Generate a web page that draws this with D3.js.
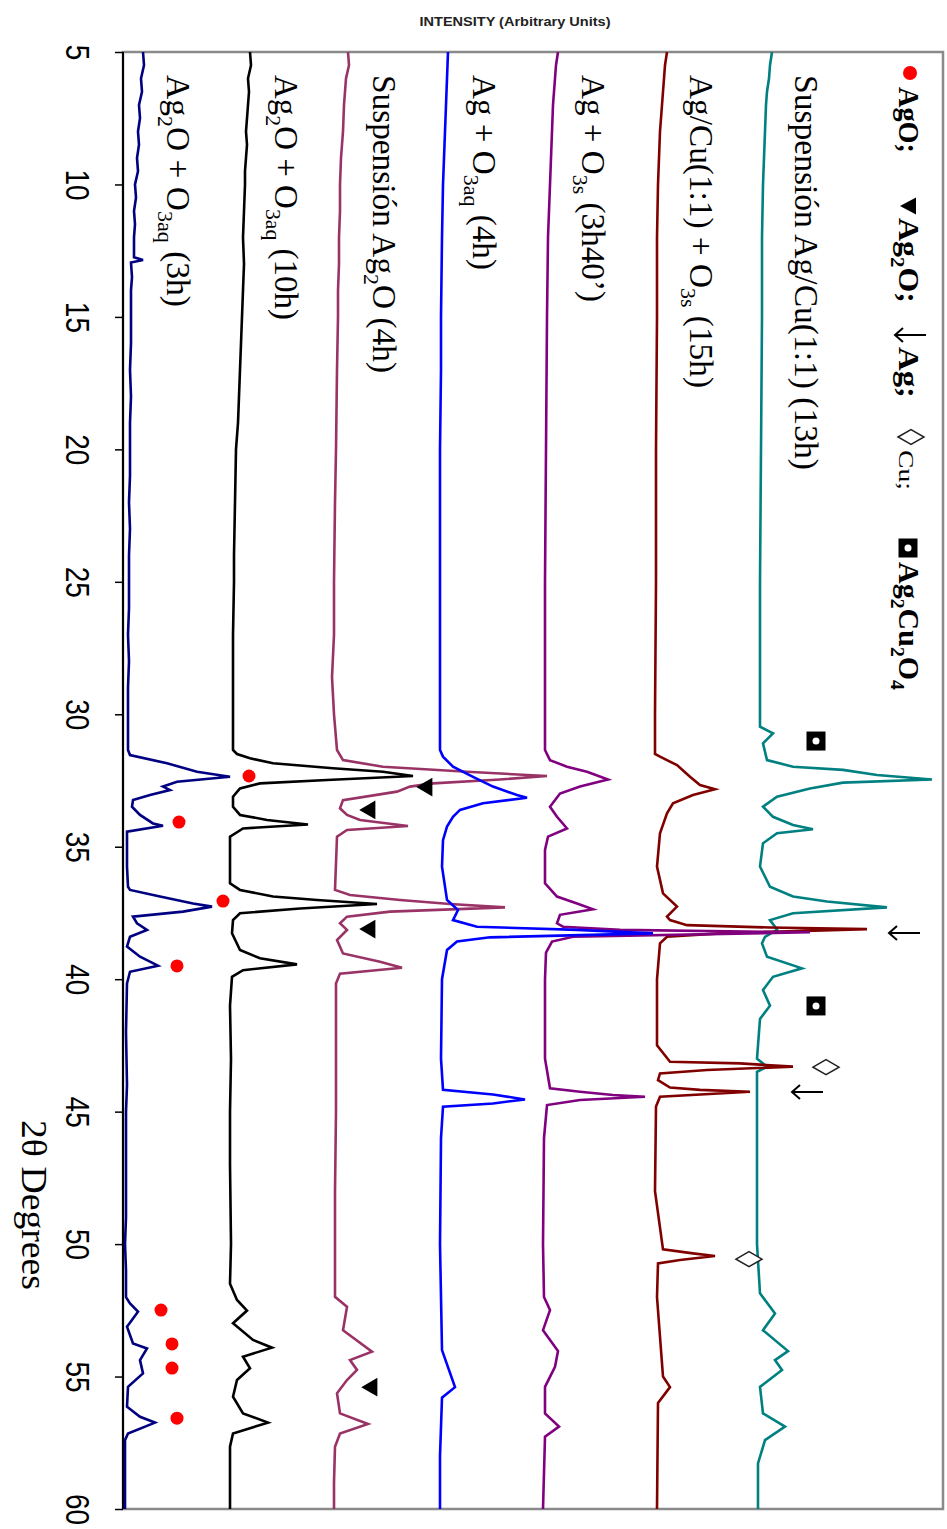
<!DOCTYPE html>
<html><head><meta charset="utf-8">
<script src="https://cdn.jsdelivr.net/npm/d3@7"></script>
<style>body{margin:0;background:#fff}svg{display:block}</style>
</head><body><svg id="c" width="947" height="1529"></svg>
<script>
// ---------- DATA (2θ degrees, intensity in arbitrary units) ----------
const ticks2theta = [5,10,15,20,25,30,35,40,45,50,55,60];

const seriesNames = [
  "Ag2O + O3aq (3h)", "Ag2O + O3aq (10h)", "Suspensión Ag2O (4h)", "Ag + O3aq (4h)",
  "Ag + O3s (3h40')", "Ag/Cu(1:1) + O3s (15h)", "Suspensión Ag/Cu(1:1) (13h)"
];

const navyData = [[5,20],[5.5,21],[6,18],[6.5,19],[7,16],[7.5,17],[8,15],[8.5,16],[9,14],[9.5,15],[10,12],[10.5,13],[11,11],[11.5,12],[12,11],[12.5,11],[12.75,11],[12.85,20],[12.95,8],[13.5,9],[14,8],[15,8],[16,8],[17,7],[18,8],[19,7],[20,7],[21,7],[22,6],[23,7],[24,6],[25,6],[26,6],[27,5],[28,6],[29,5],[30,5],[31,5],[31.35,5],
 [31.54,7],[31.85,44],[32.17,74],[32.36,107],[32.55,54],[32.73,40],[32.86,47],[33.05,27],[33.24,10],[33.49,9],[33.8,17],[34.12,30],[34.21,40],[34.43,4],[35.75,4],[36.51,5],[36.63,7],[36.88,37],[37.14,70],[37.26,89],[37.45,60],[37.64,10],[37.89,14],[38.14,24],[38.4,7],[38.77,4],[39.15,17],[39.49,35],[39.72,7],[40.16,4],
 [42,3],[44,4],[45,3],[47,3],[49,3],[50,2],[51,3],[52,3],[52.24,7],[52.55,15],[53.12,4],[53.75,10],[53.94,24],[54.38,17],[54.88,20],[55.39,5],[56.14,4],[56.52,17],[56.74,32],[57.15,5],[57.4,2],[59,2],[60,2]];

const blackData = [[5,127],[5.5,128],[6,125],[6.5,126],[7,125],[7.5,124],[8,123],[8.5,124],[9,123],[9.5,122],[10,122],[11,121],[12,120],[13,121],[14,120],[15,119],[16,118],[17,117],[18,116],[19,115],[20,113],[22,112],[24,111],[25,111],[27,110],[29.5,110],[31.35,110],
 [31.5,114],[31.66,127],[31.85,150],[32.04,210],[32.17,260],[32.33,290],[32.48,204],[32.61,137],[32.8,117],[33.11,110],[33.49,110],[33.8,117],[33.99,144],[34.16,185],[34.31,120],[34.62,107],[36.38,107],[36.63,117],[36.88,150],[37.01,194],[37.16,254],[37.33,177],[37.51,117],[37.77,110],[38.27,109],[38.9,117],[39.21,137],[39.44,174],[39.66,120],[39.91,109],
 [41,107],[43,108],[45,107],[47,107],[50,108],[51.5,107],[52.11,114],[52.51,124],[52.99,110],[53.62,130],[53.91,149],[54.25,120],[54.69,127],[55.13,114],[55.76,110],[56.39,120],[56.74,145],[57.15,110],[57.65,107],[59,107],[60,107]];

const pinkData = [[5,225],[5.5,226],[6,223],[7,221],[8,220],[9,218],[10,217],[11,217],[12,216],[13,216],[14,215],[15,215],[17,214],[20,213],[22,212],[25,211],[27,211],[28.6,209],[30,211],[31.35,214],
 [31.73,220],[31.98,260],[32.17,344],[32.33,424],[32.46,377],[32.61,310],[32.73,287],[32.92,274],[33.24,220],[33.55,217],[33.8,224],[33.99,237],[34.22,285],[34.37,224],[34.62,214],[36.63,212],[36.82,227],[37.01,277],[37.16,327],[37.29,382],[37.45,267],[37.64,224],[37.89,217],[38.14,224],[38.52,214],[39.03,220],[39.34,257],[39.57,279],[39.79,217],[40.16,213],
 [43,213],[45,213],[48,212],[50,212],[51.99,212],[52.37,224],[53.25,220],[54.06,249],[54.38,227],[54.75,234],[55.13,224],[55.63,214],[56.39,217],[56.79,245],[57.15,217],[57.65,212],[59,211],[60,211]];

const blueData = [[5,325],[6,324],[7,323],[8,322],[9,321],[10,320],[12,319],[15,318],[17,318],[20,317],[25,317],[30,317],[31.35,317],
 [31.6,320],[31.98,330],[32.36,350],[32.73,370],[33.05,394],[33.15,404],[33.36,360],[33.61,337],[33.87,330],[34.24,324],[34.75,320],[35.75,319],[37.01,324],[37.39,335],[37.77,330],[38.02,354],[38.14,454],[38.27,530],[38.42,367],[38.58,334],[38.9,324],[40,319],[43,318],
 [44.18,320],[44.35,370],[44.54,402],[44.69,370],[44.81,320],[46,318],[50,317],[54,319],[55.4,332],[55.8,319],[58,317],[60,317]];

const purpleData = [[5,435],[5.5,433],[6,432],[7,430],[8,429],[9,428],[10,427],[12,425],[15,424],[20,423],[25,422],[30,422],[31.35,422],
 [31.73,427],[31.98,444],[32.17,464],[32.46,485],[32.73,457],[32.99,437],[33.49,427],[33.87,434],[34.31,444],[34.62,425],[35.12,422],[36.38,422],[36.88,434],[37.14,454],[37.36,470],[37.57,437],[37.89,434],[38.02,440],[38.14,497],[38.23,687],[38.4,450],[38.58,429],[39,423],[40,422],[43,422],
 [44.12,427],[44.25,457],[44.37,490],[44.44,522],[44.56,457],[44.75,424],[46,421],[50,420],[52,421],[52.49,427],[53.25,420],[54.04,435],[54.63,432],[55.39,422],[56.39,422],[56.89,436],[57.27,422],[60,420]];

const darkredData = [[5,544],[5.5,542],[6,541],[7,539],[8,537],[9,536],[10,535],[12,534],[15,534],[20,533],[25,533],[30,532],[31.5,532],
 [31.6,537],[31.92,554],[32.36,567],[32.67,577],[32.83,592],[33.05,570],[33.36,550],[33.74,544],[34.49,537],[35.75,534],[36.76,540],[37.26,554],[37.64,544],[37.77,547],[37.96,564],[38.05,647],[38.11,744],[38.27,597],[38.4,544],[38.65,537],[40,534],[42.5,534],
 [43.12,547],[43.18,617],[43.3,670],[43.43,584],[43.56,537],[43.81,535],[44.09,547],[44.18,577],[44.25,627],[44.44,537],[44.81,533],[48,532],[50.2,540],[50.35,570],[50.45,592],[50.6,557],[50.73,535],[52,534],[55,540],[55.4,547],[56,535],[60,534]];

const tealData = [[5,649],[5.5,647],[6,646],[6.5,644],[7,643],[8,642],[9,641],[10,640],[12,639],[15,639],[20,638],[25,637],[30,637],
 [30.47,637],[30.72,650],[31.1,640],[31.73,644],[31.98,670],[32.1,720],[32.29,754],[32.46,809],[32.58,720],[32.8,687],[33.11,654],[33.49,640],[33.87,650],[34.18,670],[34.34,690],[34.49,654],[34.87,640],[35.75,637],[36.51,647],[36.88,670],[37.07,704],[37.29,764],[37.51,670],[37.77,647],[38.02,652],[38.14,654],[38.4,642],[38.65,639],[39.15,644],[39.59,679],[39.91,650],[40.41,640],
 [41,647],[41.5,637],[43,634],[43.3,644],[43.5,634],[46,634],[50,634],[51.86,637],[52.62,652],[53.25,640],[54.04,665],[54.38,652],[54.75,659],[55.39,637],[56.39,640],[56.89,662],[57.4,642],[58.28,635],[60,635]];

// phase markers [2θ, intensity]
const agoMarks = [[32.33,126],[34.07,56],[37.05,100],[39.5,54],[52.49,38],[53.77,49],[54.68,49],[56.57,54]];
const ag2oMarks = [[32.75,304],[33.61,247],[38.11,247],[55.4,249]];
const agMarks = [[38.26,781],[44.26,684]];
const cuMarks = [[43.32,703],[50.57,626]];
const ag2cu2o4Marks = [[31.01,693],[41.01,693]];

const seriesColors = ["#000080","#000000","#993366","#0000FF","#800080","#800000","#008080"];

// ---------- DRAW ----------
const svg = d3.select("#c");
const yS = d3.scaleLinear().domain([5,60]).range([52,1509]);
const xS = d3.scaleLinear().domain([0,820]).range([123,943]);

// title
svg.append("text").attr("x",515).attr("y",26).attr("text-anchor","middle")
  .attr("font-family","Liberation Sans, Arial, sans-serif").attr("font-weight","bold")
  .attr("font-size",12).attr("fill","#222").attr("textLength",191).attr("lengthAdjust","spacingAndGlyphs")
  .text("INTENSITY (Arbitrary Units)");

// frame
svg.append("rect").attr("x",123).attr("y",52).attr("width",820).attr("height",1457)
  .attr("fill","none").attr("stroke","#8a8a8a").attr("stroke-width",2.5);
svg.append("line").attr("x1",123).attr("x2",123).attr("y1",52).attr("y2",1509)
  .attr("stroke","#000").attr("stroke-width",2);

// axis
const ax = svg.append("g").attr("transform","translate(123,0)")
  .call(d3.axisLeft(yS).tickValues(ticks2theta).tickSize(8).tickFormat(d=>d));
ax.select(".domain").remove();
ax.selectAll(".tick line").attr("stroke","#000").attr("stroke-width",1.5);
ax.selectAll(".tick text").attr("x",0).attr("dy",0).attr("text-anchor","middle")
  .attr("font-family","Liberation Sans, Arial, sans-serif").attr("font-size",28).attr("fill","#000")
  .attr("transform","translate(-57,0) rotate(90) scale(1,1.2)");

// axis title
svg.append("text").attr("transform","translate(22,1205) rotate(90)").attr("text-anchor","middle")
  .attr("font-family","Liberation Serif, Times New Roman, serif").attr("font-size",35)
  .attr("textLength",170).attr("lengthAdjust","spacingAndGlyphs").text("2θ Degrees");

// lines
const line = d3.line().x(d=>xS(d[1])).y(d=>yS(d[0]));
const allData = [navyData, blackData, pinkData, tealData, darkredData, purpleData, blueData];
const allColors = ["#000080","#000000","#993366","#008080","#800000","#800080","#0000FF"];
allData.forEach((d,i)=>{
  svg.append("path").datum(d).attr("d",line).attr("fill","none")
    .attr("stroke",allColors[i]).attr("stroke-width",2.6).attr("stroke-linejoin","miter");
});

// series labels with subscripts
function richText(g, parts, size){
  const t = g.append("text").attr("font-family","Liberation Serif, Times New Roman, serif").attr("font-size",size).attr("fill","#000");
  let sub = false;
  parts.forEach(p=>{
    const isSub = p[1]==="s";
    const ts = t.append("tspan").text(p[0]);
    if(isSub && !sub){ ts.attr("dy", size*0.28).attr("font-size", size*0.66); sub=true; }
    else if(isSub){ ts.attr("font-size", size*0.66); }
    else if(!isSub && sub){ ts.attr("dy", -size*0.28); sub=false; }
  });
  return t;
}
const labelParts = [
  [["Ag",""],["2","s"],["O + O",""],["3aq","s"],[" (3h)",""]],
  [["Ag",""],["2","s"],["O + O",""],["3aq","s"],[" (10h)",""]],
  [["Suspensión Ag",""],["2","s"],["O (4h)",""]],
  [["Ag + O",""],["3aq","s"],[" (4h)",""]],
  [["Ag + O",""],["3s","s"],[" (3h40’)",""]],
  [["Ag/Cu(1:1) + O",""],["3s","s"],[" (15h)",""]],
  [["Suspensión Ag/Cu(1:1) (13h)",""]]
];
const labelBase = [167,275,373,473,582,690,795];
const labelLen = [232,245,298,195,227,313,395];
labelParts.forEach((p,i)=>{
  const g = svg.append("g").attr("transform",`translate(${labelBase[i]},75) rotate(90)`);
  richText(g,p,33).attr("textLength",labelLen[i]).attr("lengthAdjust","spacingAndGlyphs");
});

// markers
svg.selectAll(".ago").data(agoMarks).join("circle")
  .attr("cx",d=>xS(d[1])).attr("cy",d=>yS(d[0])).attr("r",6.5).attr("fill","#ff0000");
const tri = d3.symbol(d3.symbolTriangle, 150);
svg.selectAll(".ag2o").data(ag2oMarks).join("path").attr("d",tri)
  .attr("transform",d=>`translate(${xS(d[1])},${yS(d[0])}) rotate(-90)`).attr("fill","#000");
function arrow(cx,cy){
  svg.append("path").attr("d",`M${cx+16},${cy}L${cx-15},${cy}M${cx-7},${cy-7}L${cx-15},${cy}L${cx-7},${cy+7}`)
    .attr("fill","none").attr("stroke","#000").attr("stroke-width",2);
}
agMarks.forEach(d=>arrow(xS(d[1]),yS(d[0])));
function diamond(cx,cy){
  svg.append("path").attr("d",`M${cx-13},${cy}L${cx},${cy-7.5}L${cx+13},${cy}L${cx},${cy+7.5}Z`)
    .attr("fill","#fff").attr("stroke","#222").attr("stroke-width",1.5);
}
cuMarks.forEach(d=>diamond(xS(d[1]),yS(d[0])));
function sq(cx,cy){
  svg.append("rect").attr("x",cx-9.5).attr("y",cy-9.5).attr("width",19).attr("height",19).attr("fill","#000");
  svg.append("circle").attr("cx",cx).attr("cy",cy).attr("r",3.5).attr("fill","#fff");
}
ag2cu2o4Marks.forEach(d=>sq(xS(d[1]),yS(d[0])));

// legend (rotated)
svg.append("circle").attr("cx",910).attr("cy",73).attr("r",7).attr("fill","#ff0000");
function legText(y0, parts, len, size, bold){
  const g = svg.append("g").attr("transform",`translate(899,${y0}) rotate(90)`);
  const t = richText(g, parts, size).attr("textLength",len).attr("lengthAdjust","spacingAndGlyphs");
  if(bold) t.attr("font-weight","bold");
}
legText(87, [["AgO;",""]], 66, 29, true);
svg.append("path").attr("d","M900,206L916,197.5L916,214.5Z").attr("fill","#000");
legText(218, [["Ag",""],["2","s"],["O;",""]], 85, 29, true);
arrow(910,335);
legText(347, [["Ag;",""]], 51, 29, true);
diamond(911,437);
legText(450, [["Cu;",""]], 40, 22, false);
sq(908,548);
legText(562, [["Ag",""],["2","s"],["Cu",""],["2","s"],["O",""],["4","s"]], 128, 29, true);
</script></body></html>
